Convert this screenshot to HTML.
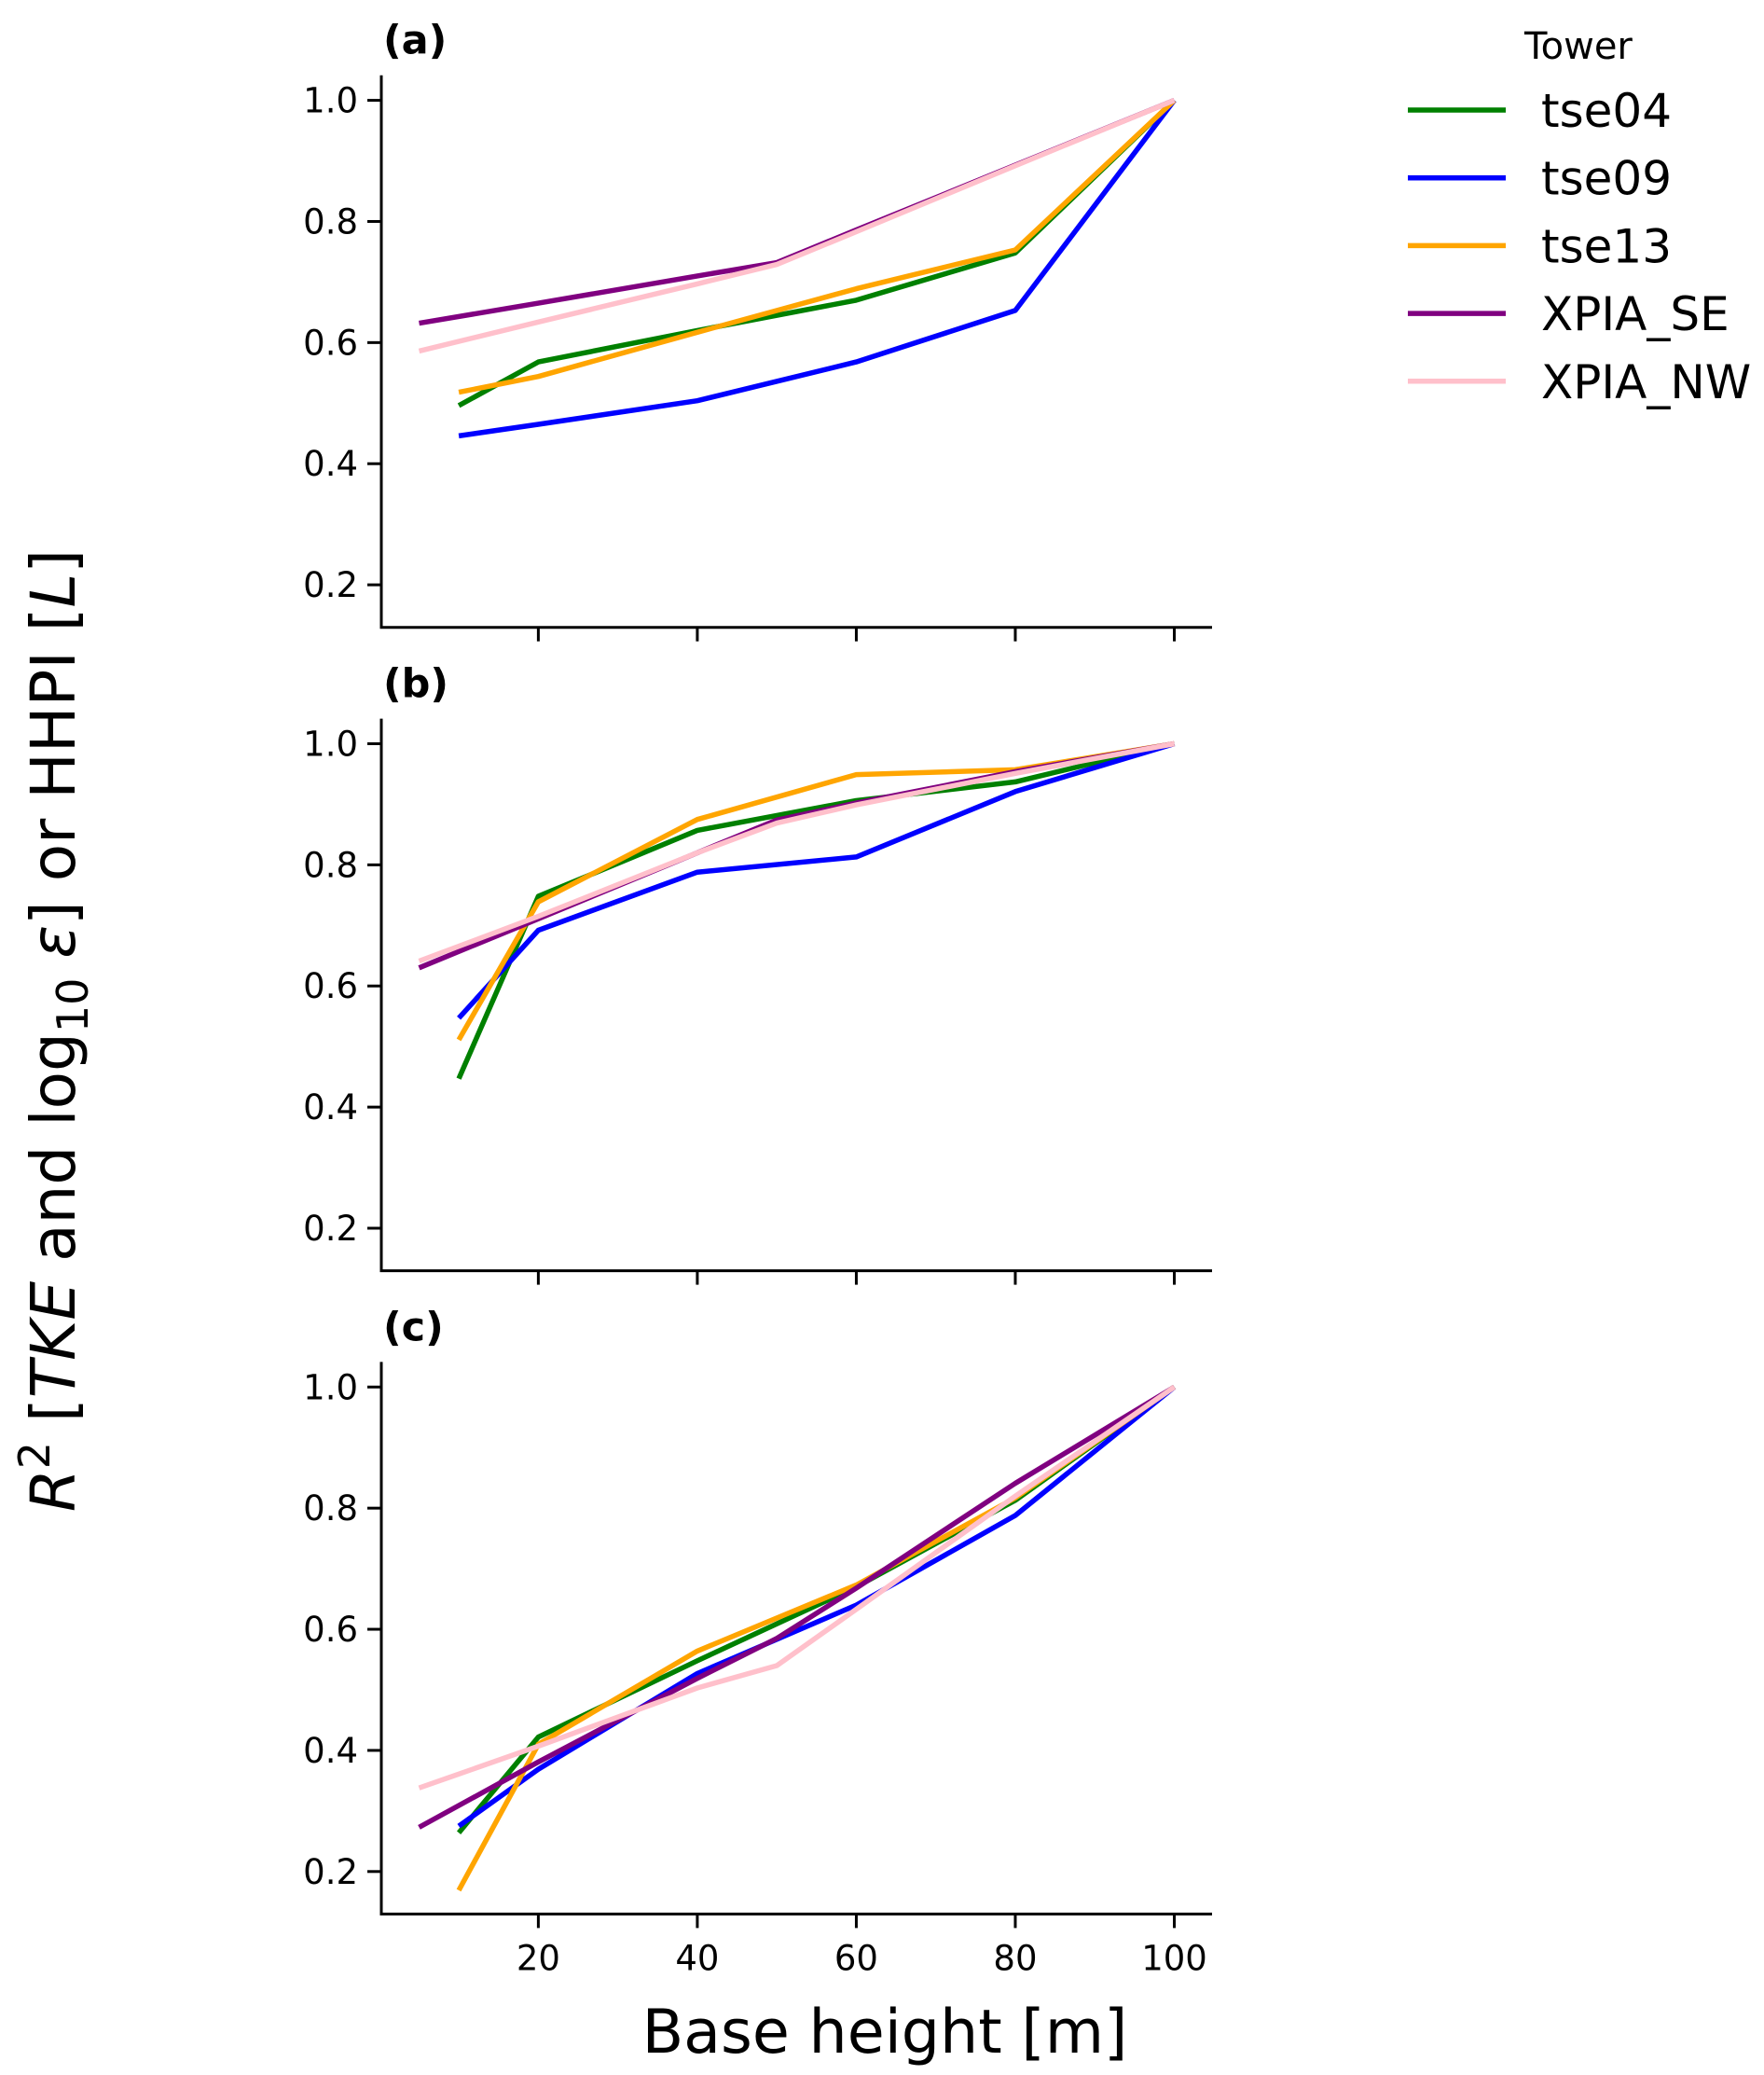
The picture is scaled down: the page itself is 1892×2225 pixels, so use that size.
<!DOCTYPE html>
<html><head><meta charset="utf-8"><style>
html,body{margin:0;padding:0;background:#fff}
svg{display:block;font-family:"DejaVu Sans","Liberation Sans",sans-serif}
</style></head><body>
<svg id="fig" width="1892" height="2225" viewBox="0 0 1892 2225" xmlns="http://www.w3.org/2000/svg">
<rect width="1892" height="2225" fill="#fff"/>
<g id="panels"></g>
<g id="legend"></g>
<text transform="translate(80,1105) rotate(-90)" text-anchor="middle" font-size="66"><tspan font-style="italic">R</tspan><tspan font-size="46" dy="-27">2</tspan><tspan dy="27"> [</tspan><tspan font-style="italic">TKE</tspan><tspan> and log</tspan><tspan font-size="46" dy="14">10</tspan><tspan dy="-14" font-style="italic"> ε</tspan><tspan>] or HHPI [</tspan><tspan font-style="italic">L</tspan><tspan>]</tspan></text>
<text x="949" y="2201" text-anchor="middle" font-size="65">Base height [m]</text>
</svg>
<script>
const seriesNames = ["tse04","tse09","tse13","XPIA_SE","XPIA_NW"];
const seriesColors = ["green","blue","orange","purple","pink"];
const tseX = [10,20,40,60,80,100];
const xpiaX = [5,20,40,50,60,80,100];
const xTicks = [20,40,60,80,100];
const yTicks = [0.2,0.4,0.6,0.8,1.0];
const yTickLabels = ["0.2","0.4","0.6","0.8","1.0"];
const panelLabels = ["(a)","(b)","(c)"];
// panel (a)
const a_tse04 = [0.496,0.568,0.620,0.670,0.748,1.0];
const a_tse09 = [0.446,0.465,0.504,0.568,0.653,1.0];
const a_tse13 = [0.518,0.544,0.617,0.689,0.753,1.0];
const a_se = [0.632,0.665,0.710,0.732,0.786,0.893,1.0];
const a_nw = [0.586,0.634,0.697,0.729,0.783,0.892,1.0];
// panel (b)
const b_tse04 = [0.447,0.748,0.857,0.906,0.937,1.0];
const b_tse09 = [0.547,0.692,0.788,0.813,0.921,1.0];
const b_tse13 = [0.511,0.739,0.875,0.949,0.957,1.0];
const b_se = [0.630,0.711,0.820,0.874,0.902,0.954,1.0];
const b_nw = [0.641,0.715,0.820,0.869,0.899,0.951,1.0];
// panel (c)
const c_tse04 = [0.264,0.422,0.548,0.670,0.813,1.0];
const c_tse09 = [0.275,0.369,0.527,0.640,0.788,1.0];
const c_tse13 = [0.169,0.410,0.564,0.673,0.817,1.0];
const c_se = [0.273,0.381,0.519,0.585,0.668,0.841,1.0];
const c_nw = [0.338,0.407,0.503,0.540,0.633,0.820,1.0];

const panelData = [[a_tse04,a_tse09,a_tse13,a_se,a_nw],[b_tse04,b_tse09,b_tse13,b_se,b_nw],[c_tse04,c_tse09,c_tse13,c_se,c_nw]];
const NS="http://www.w3.org/2000/svg";
const XMIN=0.25,XMAX=104.75,YMIN=0.1298,YMAX=1.0414;
const L=409,R=1300,PH=592,tops=[80.7,770.6,1460.4];
function sx(v){return L+(v-XMIN)/(XMAX-XMIN)*(R-L);}
function mk(tag,attrs,parent){const e=document.createElementNS(NS,tag);for(const k in attrs)e.setAttribute(k,attrs[k]);parent.appendChild(e);return e;}
const root=document.getElementById('panels');
panelData.forEach((series,pi)=>{
  const top=tops[pi],bot=top+PH;
  const sy=v=>top+(YMAX-v)/(YMAX-YMIN)*PH;
  const g=mk('g',{},root);
  
  
  series.forEach((vals,si)=>{
    const xs=si<3?tseX:xpiaX;
    const pts=vals.map((v,i)=>sx(xs[i]).toFixed(1)+','+sy(v).toFixed(1)).join(' ');
    const pl=mk('polyline',{points:pts,fill:'none',stroke:seriesColors[si],'stroke-width':5.5,'stroke-linejoin':'round'},g);
    
    
  });
  const ax=mk('path',{d:`M${L},${top} V${bot} H${R}`,fill:'none',stroke:'#000','stroke-width':3},g);
  
  
  yTicks.forEach((t,i)=>{
    mk('line',{x1:L-15,x2:L,y1:sy(t),y2:sy(t),stroke:'#000','stroke-width':3},g);
    const tx=mk('text',{x:L-25,y:sy(t)+13,'text-anchor':'end','font-size':37},g);
    
    
    tx.textContent=yTickLabels[i];
  });
  xTicks.forEach(t=>{
    mk('line',{x1:sx(t),x2:sx(t),y1:bot,y2:bot+15,stroke:'#000','stroke-width':3},g);
    if(pi===2){
      const tx=mk('text',{x:sx(t),y:bot+60,'text-anchor':'middle','font-size':37},g);
      
      
      tx.textContent=String(t);
    }
  });
  const pl=mk('text',{x:411,y:top-23,'font-size':43,'font-weight':'bold'},g);
  
  
  pl.textContent=panelLabels[pi];
});
const lg=document.getElementById('legend');
const tt=mk('text',{x:1635,y:63,'font-size':40},lg);


tt.textContent='Tower';
seriesNames.forEach((n,i)=>{
  const y=118+i*72.7;
  const ln=mk('line',{x1:1510,x2:1615,y1:y,y2:y,stroke:seriesColors[i],'stroke-width':5.5},lg);
  
  
  const t=mk('text',{x:1653,y:y+18,'font-size':50},lg);
  
  
  t.textContent=n;
});
</script>
</body></html>
